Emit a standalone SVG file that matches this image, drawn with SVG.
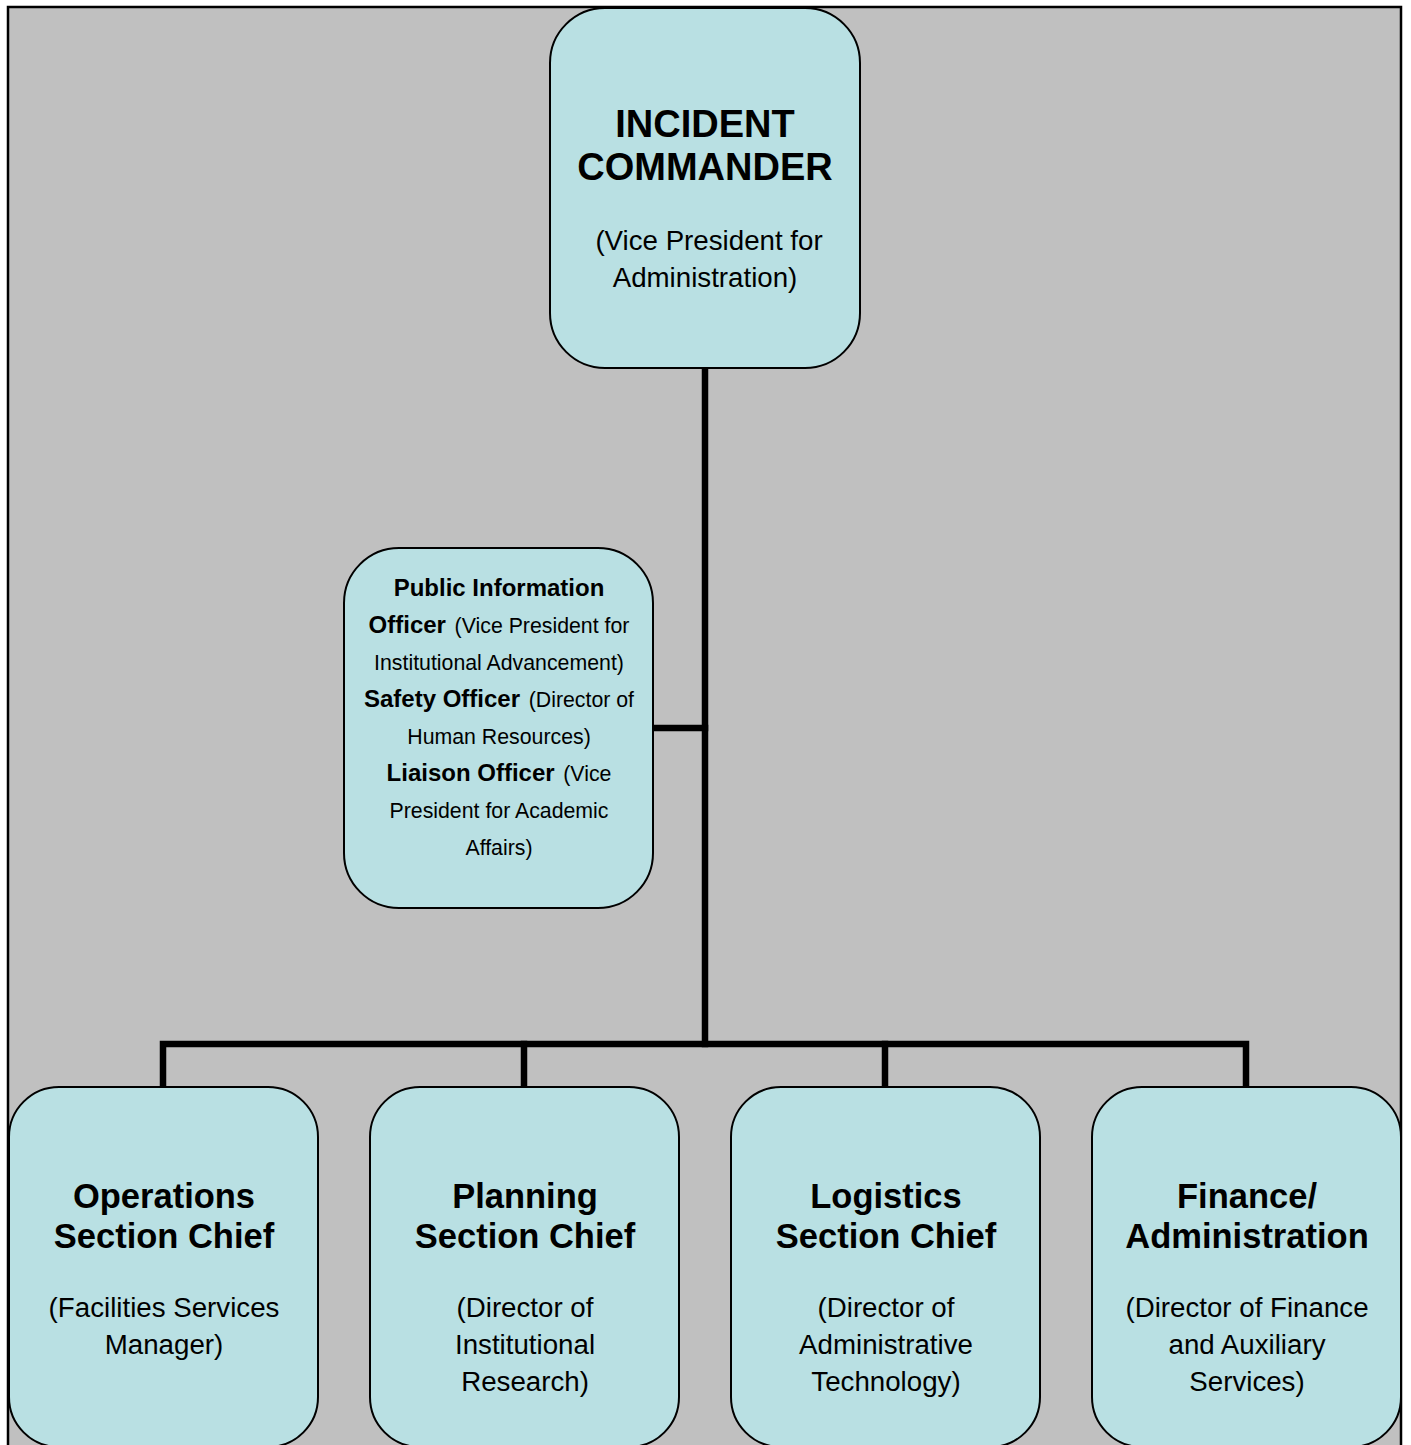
<svg xmlns="http://www.w3.org/2000/svg" width="1411" height="1445" viewBox="0 0 1411 1445">
<style>
.box{fill:#B9E0E3;stroke:#000;stroke-width:2}
.conn{stroke:#000;stroke-width:6.5;fill:none;stroke-linecap:square}
text{font-family:"Liberation Sans",Arial,sans-serif;fill:#000;text-anchor:middle}
.t1{font-size:38px;font-weight:bold}
.t2{font-size:34.5px;font-weight:bold}
.s{font-size:27.7px}
.mb{font-size:24px;font-weight:bold}
.mr{font-size:21.3px;font-weight:normal}
</style>
<rect x="0" y="0" width="1411" height="1445" fill="#fff"/>
<rect x="8" y="7" width="1393" height="1460" fill="#C0C0C0" stroke="#000" stroke-width="2.5"/>
<g id="connectors">
<path class="conn" d="M705,368 V1044"/>
<path class="conn" d="M654,728 H705"/>
<path class="conn" d="M163,1086 V1044 H1246 V1086"/>
<path class="conn" d="M524,1044 V1086"/>
<path class="conn" d="M885,1044 V1086"/>
</g>
<g id="incident-commander">
<rect class="box" x="550" y="8" width="310" height="360" rx="55" ry="55"/>
<text class="t1" x="705" y="137">INCIDENT</text>
<text class="t1" x="705" y="180">COMMANDER</text>
<text class="s" x="709" y="250">(Vice President for</text>
<text class="s" x="705" y="287">Administration)</text>
</g>
<g id="command-staff">
<rect class="box" x="344" y="548" width="309" height="360" rx="55" ry="55"/>
<text class="mb" x="499" y="596">Public Information</text>
<text x="499" y="633"><tspan class="mb">Officer </tspan><tspan class="mr" dx="2">(Vice President for</tspan></text>
<text class="mr" x="499" y="670">Institutional Advancement)</text>
<text x="499" y="707"><tspan class="mb">Safety Officer </tspan><tspan class="mr" dx="2">(Director of</tspan></text>
<text class="mr" x="499" y="744">Human Resources)</text>
<text x="499" y="781"><tspan class="mb">Liaison Officer </tspan><tspan class="mr" dx="2">(Vice</tspan></text>
<text class="mr" x="499" y="818">President for Academic</text>
<text class="mr" x="499" y="855">Affairs)</text>
</g>
<g id="operations">
<rect class="box" x="9" y="1087" width="309" height="360" rx="50" ry="50"/>
<text class="t2" x="164" y="1208">Operations</text>
<text class="t2" x="164" y="1248">Section Chief</text>
<text class="s" x="164" y="1317">(Facilities Services</text>
<text class="s" x="164" y="1354">Manager)</text>
</g>
<g id="planning">
<rect class="box" x="370" y="1087" width="309" height="360" rx="50" ry="50"/>
<text class="t2" x="525" y="1208">Planning</text>
<text class="t2" x="525" y="1248">Section Chief</text>
<text class="s" x="525" y="1317">(Director of</text>
<text class="s" x="525" y="1354">Institutional</text>
<text class="s" x="525" y="1391">Research)</text>
</g>
<g id="logistics">
<rect class="box" x="731" y="1087" width="309" height="360" rx="50" ry="50"/>
<text class="t2" x="886" y="1208">Logistics</text>
<text class="t2" x="886" y="1248">Section Chief</text>
<text class="s" x="886" y="1317">(Director of</text>
<text class="s" x="886" y="1354">Administrative</text>
<text class="s" x="886" y="1391">Technology)</text>
</g>
<g id="finance">
<rect class="box" x="1092" y="1087" width="309" height="360" rx="50" ry="50"/>
<text class="t2" x="1247" y="1208">Finance/</text>
<text class="t2" x="1247" y="1248">Administration</text>
<text class="s" x="1247" y="1317">(Director of Finance</text>
<text class="s" x="1247" y="1354">and Auxiliary</text>
<text class="s" x="1247" y="1391">Services)</text>
</g>
</svg>
